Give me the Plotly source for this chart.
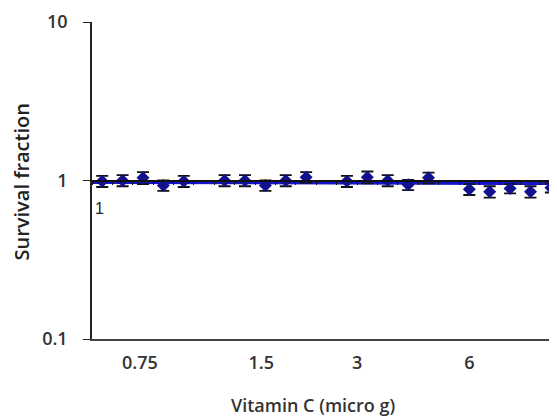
import plotly.graph_objects as go

# Data
slots = [0, 1, 2, 3, 4, 6, 7, 8, 9, 10, 12, 13, 14, 15, 16, 18, 19, 20, 21, 22]
survival = [0.99, 1.00, 1.04, 0.93, 0.99,
            1.00, 1.00, 0.93, 1.00, 1.05,
            0.99, 1.05, 1.00, 0.94, 1.04,
            0.88, 0.85, 0.89, 0.85, 0.90]
err = [0.08, 0.08, 0.09, 0.07, 0.08,
       0.08, 0.08, 0.07, 0.08, 0.08,
       0.08, 0.09, 0.08, 0.07, 0.08,
       0.07, 0.07, 0.06, 0.07, 0.06]
trend_x = [-0.5, 23.5]
trend_y = [0.975, 0.96]
tick_pos = [1.85, 7.8, 12.5, 18.0]
tick_text = ["0.75", "1.5", "3", "6"]
boundaries = [k + 0.5 for k in range(-1, 24)]

font = "Open Sans"
fig = go.Figure()

fig.add_trace(go.Scatter(x=trend_x, y=trend_y, mode="lines",
                         line=dict(color="#1414c8", width=3.5),
                         hoverinfo="skip", showlegend=False))
fig.add_trace(go.Scatter(x=slots, y=survival, mode="markers", cliponaxis=False,
                         marker=dict(symbol="diamond", size=10, color="#12128f"),
                         error_y=dict(type="data", array=err, color="#111111",
                                      thickness=1.8, width=6),
                         showlegend=False))
# invisible trace for the crossing axis at y = 1
fig.add_trace(go.Scatter(x=[0], y=[1], xaxis="x2", mode="markers",
                         marker=dict(opacity=0), hoverinfo="skip", showlegend=False))

fig.add_annotation(x=0, y=0, yref="y", xref="x", text="1", showarrow=False,
                   yshift=-28, xshift=-3,
                   font=dict(family="Liberation Sans", size=16, color="#222"))
# axis titles
fig.add_annotation(x=0.5, y=0, xref="paper", yref="paper", yanchor="middle",
                   yshift=-66, xshift=-12, text="Vitamin C (micro g)", showarrow=False,
                   font=dict(family=font, size=18, color="#333", weight=600))
fig.add_annotation(x=0, y=0.5, xref="paper", yref="paper", xanchor="center",
                   xshift=-71, yshift=-2, textangle=-90, text="Survival fraction",
                   showarrow=False,
                   font=dict(family=font, size=20, color="#222", weight=600))

fig.update_layout(
    width=549, height=408,
    margin=dict(l=84, r=0, t=14, b=77),
    paper_bgcolor="white", plot_bgcolor="white",
    xaxis=dict(range=[-0.5, 22.3], showgrid=False, zeroline=False, automargin=False,
               showline=True, linecolor="#444", linewidth=1.5,
               tickvals=tick_pos, ticktext=tick_text, ticks="",
               ticklabelstandoff=7,
               tickfont=dict(family=font, size=18, color="#333", weight=600)),
    xaxis2=dict(range=[-0.5, 22.3], overlaying="x", anchor="free", position=0.5,
                side="bottom", showgrid=False, zeroline=False, showline=True,
                automargin=False,
                linecolor="#111", linewidth=1.5, tickvals=boundaries,
                ticks="outside", ticklen=4, tickcolor="#111", showticklabels=False),
    yaxis=dict(type="log", range=[-1, 1], showgrid=False, zeroline=False,
               showline=True, linecolor="#222", linewidth=1.5, automargin=False,
               tickvals=[0.1, 1, 10], ticktext=["0.1", "1", "10"],
               ticks="outside", ticklen=7, tickcolor="#222",
               ticklabelstandoff=12,
               tickfont=dict(family=font, size=18, color="#333", weight=600)),
)

fig.write_html("out.html")
